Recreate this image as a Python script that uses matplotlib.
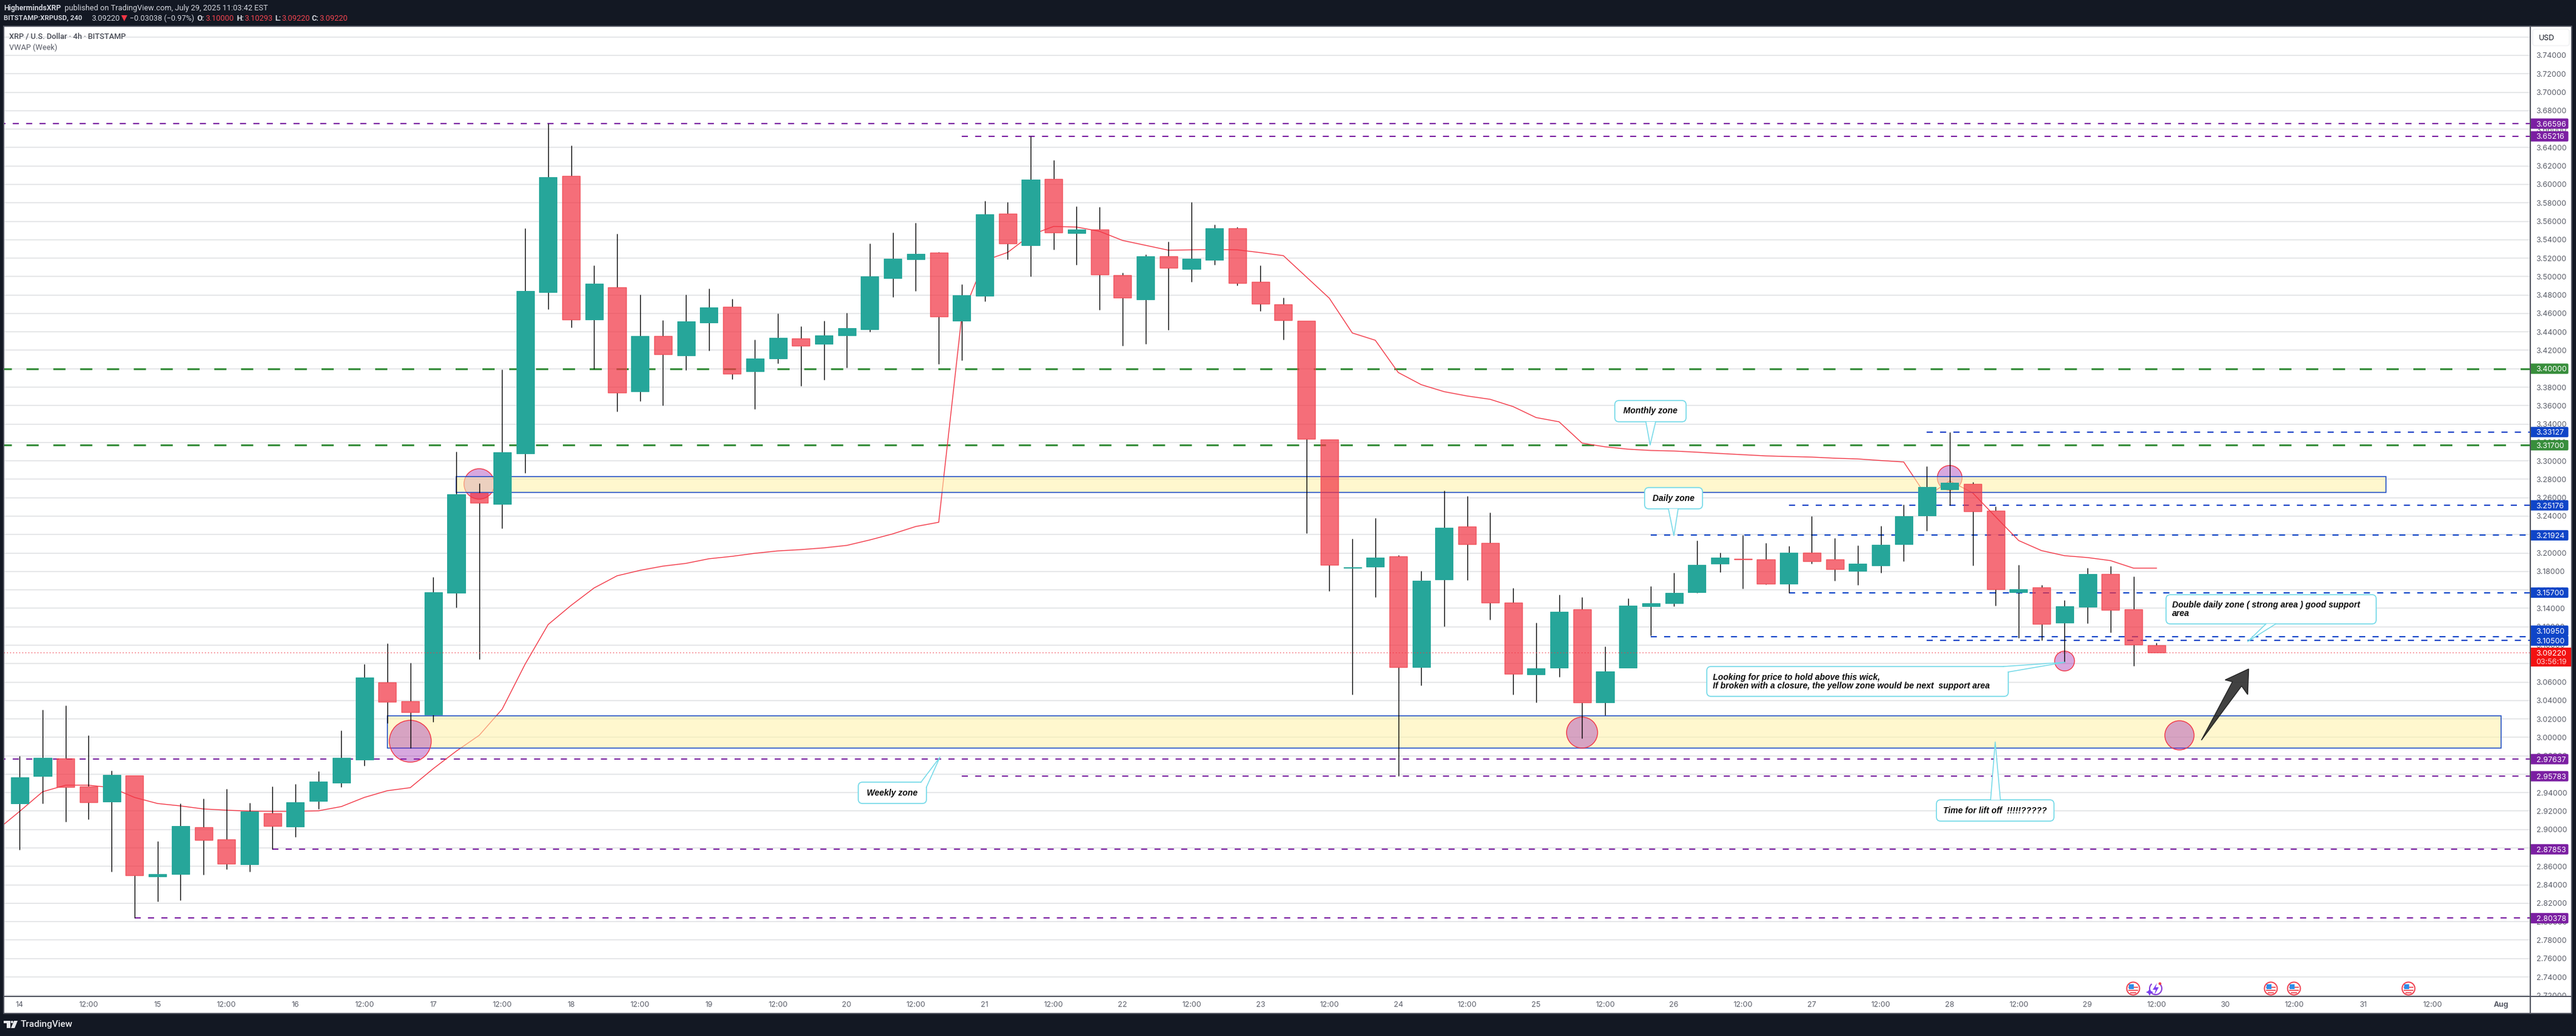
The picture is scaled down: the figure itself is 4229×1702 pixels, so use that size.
#!/usr/bin/env python3
"""XRP/USD 4h candles with zones, levels and notes, TradingView snapshot style."""
import numpy as np
import matplotlib
matplotlib.use("Agg")
import matplotlib.pyplot as plt
from matplotlib.patches import Rectangle, Ellipse, FancyBboxPatch, Polygon, Circle, Arc

W, H = 4229, 1702
plt.rcParams["lines.scale_dashes"] = False
plt.rcParams["font.family"] = ["Inter", "DejaVu Sans"]

# one candle every 4h, first one is Jul 14 00:00
opens = [
    2.9282, 2.9580, 2.9771, 2.9467, 2.9302, 2.9587, 2.8490, 2.8516, 2.9025, 2.8893,
    2.8622, 2.9177, 2.9032, 2.9309, 2.9507, 2.9758, 3.0597, 3.0392, 3.0247, 3.1568,
    3.2651, 3.2532, 3.3080, 3.4831, 3.6092, 3.4533, 3.4883, 3.3754, 3.4355, 3.4144,
    3.4500, 3.4672, 3.3972, 3.4111, 3.4329, 3.4269, 3.4362, 3.4428, 3.4983, 3.5187,
    3.5260, 3.4520, 3.4791, 3.5683, 3.5339, 3.6059, 3.5471, 3.5511, 3.5016, 3.4751,
    3.5220, 3.5082, 3.5181, 3.5524, 3.4943, 3.4698, 3.4520, 3.3232, 3.1839, 3.1852,
    3.1964, 3.0762, 3.1713, 3.2288, 3.2109, 3.1462, 3.0683, 3.0755, 3.1389, 3.0379,
    3.0755, 3.1422, 3.1455, 3.1574, 3.1885, 3.1938, 3.1928, 3.1667, 3.2004, 3.1928,
    3.1806, 3.1868, 3.2096, 3.2407, 3.2691, 3.2750, 3.2460, 3.1574, 3.1627, 3.1244,
    3.1416, 3.1772, 3.1389, 3.1000,
]
highs = [
    2.9798, 3.0300, 3.0346, 3.0022, 2.9639, 2.9587, 2.8873, 2.9282, 2.9335, 2.9441,
    2.9289, 2.9468, 2.9495, 2.9633, 3.0075, 3.0795, 3.1020, 3.0808, 3.1739, 3.3101,
    3.2757, 3.3992, 3.5524, 3.6660, 3.6422, 3.5121, 3.5465, 3.4804, 3.4527, 3.4804,
    3.4870, 3.4758, 3.4315, 3.4599, 3.4461, 3.4520, 3.4606, 3.5359, 3.5478, 3.5584,
    3.5267, 3.4916, 3.5821, 3.5808, 3.6522, 3.6264, 3.5762, 3.5755, 3.5042, 3.5240,
    3.5379, 3.5808, 3.5564, 3.5537, 3.5121, 3.4771, 3.4520, 3.3232, 3.2156, 3.2380,
    3.1977, 3.1806, 3.2677, 3.2618, 3.2440, 3.1621, 3.1244, 3.1548, 3.1522, 3.0986,
    3.1508, 3.1640, 3.1786, 3.2136, 3.2004, 3.2195, 3.2109, 3.2076, 3.2400, 3.2162,
    3.2083, 3.2294, 3.2525, 3.2942, 3.3313, 3.2770, 3.2506, 3.1872, 3.1654, 3.1489,
    3.1839, 3.1858, 3.1746, 3.1029,
]
lows = [
    2.8780, 2.9282, 2.9084, 2.9111, 2.8543, 2.8038, 2.8219, 2.8232, 2.8511, 2.8569,
    2.8543, 2.8785, 2.8919, 2.9223, 2.9461, 2.9692, 3.0154, 2.9884, 3.0168, 3.1409,
    3.0848, 3.2268, 3.2869, 3.4646, 3.4448, 3.3998, 3.3537, 3.3648, 3.3602, 3.3985,
    3.4197, 3.3886, 3.3562, 3.4058, 3.3813, 3.3879, 3.4012, 3.4401, 3.4778, 3.4844,
    3.4051, 3.4091, 3.4732, 3.5187, 3.5002, 3.5293, 3.5128, 3.4639, 3.4249, 3.4269,
    3.4421, 3.4943, 3.5128, 3.4903, 3.4626, 3.4315, 3.2215, 3.1588, 3.0465, 3.1522,
    2.9580, 3.0564, 3.1204, 3.1706, 3.1277, 3.0465, 3.0379, 3.0656, 2.9989, 3.0240,
    3.0755, 3.1105, 3.1422, 3.1568, 3.1792, 3.1614, 3.1660, 3.1570, 3.1882, 3.1700,
    3.1654, 3.1786, 3.1911, 3.2241, 3.2518, 3.1865, 3.1429, 3.1079, 3.1050, 3.0815,
    3.1237, 3.1138, 3.0775, 3.0922,
]
closes = [
    2.9566, 2.9778, 2.9461, 2.9296, 2.9593, 2.8503, 2.8516, 2.9038, 2.8886, 2.8629,
    2.9197, 2.9038, 2.9296, 2.9520, 2.9778, 3.0650, 3.0385, 3.0273, 3.1574, 3.2638,
    3.2545, 3.3094, 3.4844, 3.6079, 3.4533, 3.4923, 3.3741, 3.4355, 3.4157, 3.4514,
    3.4665, 3.3946, 3.4111, 3.4335, 3.4249, 3.4362, 3.4441, 3.5002, 3.5194, 3.5247,
    3.4566, 3.4798, 3.5676, 3.5359, 3.6053, 3.5478, 3.5511, 3.5022, 3.4771, 3.5220,
    3.5095, 3.5194, 3.5524, 3.4930, 3.4705, 3.4527, 3.3239, 3.1872, 3.1845, 3.1951,
    3.0762, 3.1700, 3.2275, 3.2096, 3.1462, 3.0689, 3.0749, 3.1363, 3.0379, 3.0716,
    3.1429, 3.1455, 3.1568, 3.1872, 3.1951, 3.1931, 3.1667, 3.2004, 3.1914, 3.1825,
    3.1888, 3.2092, 3.2400, 3.2717, 3.2763, 3.2453, 3.1607, 3.1607, 3.1231, 3.1422,
    3.1772, 3.1383, 3.1006, 3.0922,
]

# weekly VWAP, first value belongs to the bar left of the visible range
vwap = [
    2.8992, 2.9197, 2.9410, 2.9481, 2.9481, 2.9454, 2.9348, 2.9282, 2.9256, 2.9223, 2.9210,
    2.9200, 2.9197, 2.9197, 2.9203, 2.9249, 2.9348, 2.9421, 2.9454, 2.9660, 2.9850,
    3.0022, 3.0306, 3.0795, 3.1224, 3.1432, 3.1621, 3.1753, 3.1812, 3.1858, 3.1888,
    3.1938, 3.1964, 3.1997, 3.2023, 3.2037, 3.2056, 3.2083, 3.2142, 3.2208, 3.2288,
    3.2334, 3.4566, 3.5174, 3.5262, 3.5451, 3.5544, 3.5537, 3.5491, 3.5392, 3.5339,
    3.5286, 3.5290, 3.5293, 3.5290, 3.5260, 3.5227, 3.4996, 3.4765, 3.4388, 3.4309,
    3.3959, 3.3827, 3.3751, 3.3704, 3.3668, 3.3589, 3.3470, 3.3424, 3.3193, 3.3153,
    3.3127, 3.3113, 3.3107, 3.3094, 3.3080, 3.3067, 3.3054, 3.3047, 3.3041, 3.3029,
    3.3021, 3.3004, 3.2988, 3.2613, 3.2783, 3.2653, 3.2393, 3.2136, 3.2026, 3.1971,
    3.1951, 3.1918, 3.1836, 3.1836,
]

last_price = 3.09220

# horizontal levels: price, bar where the line starts, group
level_prices = [3.66596, 3.65216, 3.40000, 3.33127, 3.31700, 3.25176, 3.21924, 3.15700,
                3.10950, 3.10500, 2.97637, 2.95783, 2.87853, 2.80378]
level_starts = [-1, 41, -1, 83, -1, 77, 71, 77, 71, 83, -1, 41, 11, 5]
level_groups = ["purple", "purple", "green", "blue", "green", "blue", "blue", "blue",
                "blue", "blue", "purple", "purple", "purple", "purple"]

zone_bars = [(19, 103), (16, 108)]
zone_prices = [(3.2660, 3.2829), (2.9881, 3.0236)]

# marked spots: bar, price
circle_bars = [17, 20, 68, 84, 89, 94]
circle_prices = [2.9958, 3.2750, 3.0052, 3.2816, 3.0828, 3.0022]

x_tick_labels = ["14", "12:00", "15", "12:00", "16", "12:00", "17", "12:00", "18", "12:00",
                 "19", "12:00", "20", "12:00", "21", "12:00", "22", "12:00", "23", "12:00",
                 "24", "12:00", "25", "12:00", "26", "12:00", "27", "12:00", "28", "12:00",
                 "29", "12:00", "30", "12:00", "31", "12:00", "Aug"]

GREEN = "#26a69a"
RED_FILL = (242 / 255, 54 / 255, 69 / 255, 0.72)
RED_EDGE = (239 / 255, 70 / 255, 80 / 255, 0.8)
LEVEL_COLORS = {"purple": "#7b1fa2", "green": "#388e3c", "blue": "#0f45c8"}
DARK = "#131823"
AXIS_TEXT = "#5b5e69"
NOTE_EDGE = "#73d9e8"

# pixel box of the price pane
LEFT, RIGHT, TOP, BOTTOM = 6, 4154, 43, 1637
PANEL_RIGHT, PANEL_BOTTOM = 4222, 1665
BAR0_X, BAR_STEP = 32.3, 37.72
PX_PER_USD = 1514.0

fig = plt.figure(figsize=(W / 100, H / 100), dpi=100, facecolor=DARK)

fig.add_artist(Rectangle((LEFT / W, 1 - PANEL_BOTTOM / H), (PANEL_RIGHT - LEFT) / W, (PANEL_BOTTOM - TOP) / H,
                         transform=fig.transFigure, facecolor="white", edgecolor="none", zorder=-5))

ax = fig.add_axes([LEFT / W, 1 - BOTTOM / H, (RIGHT - LEFT) / W, (BOTTOM - TOP) / H])
ax.set_xlim((LEFT - BAR0_X) / BAR_STEP, (RIGHT - BAR0_X) / BAR_STEP)
ax.set_ylim(3.74 - (BOTTOM - 91) / PX_PER_USD, 3.74 + (91 - TOP) / PX_PER_USD)
for s in ax.spines.values():
    s.set_visible(False)

bars = np.arange(len(opens))
o = np.array(opens)
c = np.array(closes)
up = c >= o

# price axis, the top label sits behind the USD box so it stays empty
y_ticks = np.arange(2.72, 3.77, 0.02)
ax.set_yticks(y_ticks)
ax.set_yticklabels([f"{v:.5f}" if v < 3.75 else "" for v in y_ticks], fontsize=8.9, color=AXIS_TEXT)
ax.yaxis.tick_right()
ax.tick_params(axis="y", length=0, pad=6.9)
ax.set_axisbelow(True)
ax.grid(axis="y", color="#e0e1e4", linewidth=1.15, zorder=1)

# time axis
ax.set_xticks(np.arange(len(x_tick_labels)) * 3)
ax.set_xticklabels(x_tick_labels, fontsize=8.9, color=AXIS_TEXT)
ax.get_xticklabels()[-1].set_fontweight("bold")
ax.tick_params(axis="x", length=0, pad=5.5)

# the two high circles sit below the zone, the others above it
for b, p in zip(circle_bars, circle_prices):
    r_px = {17: 34.4, 20: 25, 68: 25.5, 84: 20.3, 89: 16.3, 94: 24}[b]
    z = 1.5 if b in (20, 84) else 4
    ax.add_patch(Ellipse((b, p), 2 * r_px / BAR_STEP, 2 * r_px / PX_PER_USD,
                         facecolor=(0.61, 0.15, 0.69, 0.40), edgecolor="#f23645", linewidth=1.0, zorder=z))

# levels
for p, start, group in zip(level_prices, level_starts, level_groups):
    thick = group == "green"
    ax.plot([start, 115], [p, p], color=LEVEL_COLORS[group], linewidth=2.2 if thick else 1.5,
            linestyle=(0, (14.4, 17.3)) if thick else (0, (7.2, 8.6)), zorder=3, solid_capstyle="butt")

# vwap goes under the zones
ax.plot(np.arange(-1, len(vwap) - 1), vwap, color="#f23645", linewidth=1.0, zorder=3.5)

for (b0, b1), (p0, p1) in zip(zone_bars, zone_prices):
    ax.add_patch(Rectangle((b0, p0), b1 - b0, p1 - p0, facecolor=(1.0, 0.95, 0.65, 0.55),
                           edgecolor="#1848c4", linewidth=1.1, zorder=3.6))

# candles, wicks stop at the body
bottoms = np.minimum(o, c)
tops = np.maximum(o, c)
heights = tops - bottoms
ax.vlines(bars, tops, highs, color="black", linewidth=1.0, zorder=5)
ax.vlines(bars, lows, bottoms, color="black", linewidth=1.0, zorder=5)
ax.bar(bars[up], heights[up], bottom=bottoms[up], width=0.77, color=GREEN, edgecolor=GREEN, linewidth=0.7, zorder=6)
ax.bar(bars[~up], heights[~up], bottom=bottoms[~up], width=0.77, color=RED_FILL, edgecolor=RED_EDGE, linewidth=1.0, zorder=6)

ax.axhline(last_price, color="#f23645", linewidth=0.75, linestyle=(0, (1.2, 2.4)), zorder=7)

# overlay in pixel units for frame, badges, notes, header
ov = fig.add_axes([0, 0, 1, 1], zorder=10)
ov.set_xlim(0, W)
ov.set_ylim(H, 0)
ov.set_xticks([])
ov.set_yticks([])
ov.axis("off")
ov.patch.set_alpha(0)


def py(price):
    return 91 + (3.74 - price) * PX_PER_USD


# cut off the lowest price label, frame lines
ov.add_patch(Rectangle((RIGHT + 1, BOTTOM), PANEL_RIGHT - RIGHT - 1, PANEL_BOTTOM - BOTTOM, facecolor="white", edgecolor="none"))
frame = "#50535e"
ov.plot([LEFT, PANEL_RIGHT, PANEL_RIGHT, LEFT, LEFT], [TOP, TOP, PANEL_BOTTOM, PANEL_BOTTOM, TOP], color=frame, lw=1.4)
ov.plot([LEFT, PANEL_RIGHT], [BOTTOM, BOTTOM], color=frame, lw=1.4)
ov.plot([RIGHT, RIGHT], [TOP, PANEL_BOTTOM], color=frame, lw=1.4)


def badge(y0, y1, color, text, x1=4216.5, fs=8.9):
    ov.add_patch(FancyBboxPatch((RIGHT + 1, y0 + 1.5), x1 - RIGHT - 2.5, y1 - y0 - 3,
                                boxstyle="round,pad=1.5,rounding_size=2", facecolor=color, edgecolor="none", mutation_aspect=1))
    ov.text(4163.6, (y0 + y1) / 2, text, color="white", fontsize=fs, va="center_baseline", ha="left")


for p, group in zip(level_prices, level_groups):
    y = py(p)
    if p == 3.10950:
        y -= 9.5
    badge(y - 8.5, y + 8.5, LEVEL_COLORS[group], f"{p:.5f}")

# last price badge with countdown
ov.add_patch(Rectangle((RIGHT + 1, 1064), 4221 - RIGHT - 1, 31, facecolor="#f21212", edgecolor="none"))
ov.text(4163.6, 1072.5, "3.09220", color="white", fontsize=8.9, va="center_baseline")
ov.text(4163.6, 1086.5, "03:56:19", color="#ffd0d0", fontsize=8.9, va="center_baseline")

# currency box
ov.add_patch(FancyBboxPatch((4161, 51), 54, 21, boxstyle="round,pad=3,rounding_size=4", facecolor="white", edgecolor="#f0f1f3", linewidth=1))
ov.text(4167.5, 61.5, "USD", color="#131722", fontsize=8.9, va="center_baseline")


def note(x0, y0, x1, y1, tail, text, tx=None, ty=None):
    """Speech bubble: box corners, tail points (a, tip, b), bold italic text."""
    r = 7
    ov.add_patch(FancyBboxPatch((x0 + r, y0 + r), x1 - x0 - 2 * r, y1 - y0 - 2 * r,
                                boxstyle=f"round,pad={r},rounding_size={r}", facecolor="white", edgecolor=NOTE_EDGE, linewidth=1.2))
    ov.add_patch(Polygon(tail, closed=True, facecolor="white", edgecolor="none"))
    ov.plot([p[0] for p in tail], [p[1] for p in tail], color=NOTE_EDGE, lw=1.1)
    kw = dict(family=["Liberation Sans"], style="italic", weight="bold", fontsize=10, color="#0a0a0a", va="center", linespacing=1.05)
    if tx is None:
        ov.text((x0 + x1) / 2, (y0 + y1) / 2, text, ha="center", **kw)
    else:
        ov.text(tx, ty, text, ha="left", **kw)


note(2651, 658, 2768, 693, [(2702, 693), (2709, 731), (2718, 693)], "Monthly zone")
note(2700, 801, 2795, 836, [(2739, 836), (2748, 880), (2755, 836)], "Daily zone")
note(1409, 1285, 1521, 1320, [(1512, 1285), (1543, 1244), (1521, 1293)], "Weekly zone")
note(3179, 1314, 3372, 1349, [(3268, 1314), (3275.5, 1219), (3284, 1314)], "Time for lift off  !!!!!?????")
note(2802, 1095, 3297, 1144, [(3289, 1095), (3390, 1088), (3297, 1104)],
     "Looking for price to hold above this wick,\nIf broken with a closure, the yellow zone would be next  support area",
     tx=2811.6, ty=1120)
note(3556, 977, 3901, 1025, [(3720, 1025), (3690, 1054), (3736, 1025)],
     "Double daily zone ( strong area ) good support\narea", tx=3566, ty=1001)

# arrow
ov.add_patch(Polygon([(3614, 1216), (3665, 1120), (3653, 1117), (3691.6, 1099), (3690, 1141), (3680, 1127)],
                     closed=True, facecolor=(0.13, 0.13, 0.13, 0.85), edgecolor="#222222", linewidth=1.0))


def flag(cx, cy=1624):
    ov.add_patch(Circle((cx, cy), 10.5, facecolor="white", edgecolor="#f0404f", linewidth=1.4))
    for dy in (-2, 3, 7):
        half = np.sqrt(max(8.5 ** 2 - dy ** 2, 0))
        ov.add_patch(Rectangle((cx - half, cy + dy - 1), 2 * half, 2.4, facecolor="#f0606a", edgecolor="none"))
    ov.add_patch(Rectangle((cx - 7, cy - 7), 8, 7.5, facecolor="#2f8de8", edgecolor="none"))


for fx in (3502, 3728, 3766, 3954):
    flag(fx)

# the other event marker
ov.add_patch(Arc((3539, 1624), 20, 20, theta1=-60, theta2=230, color="#8a3fd8", lw=1.5))
ov.add_patch(Polygon([(3541, 1615), (3534, 1626), (3539, 1626), (3537, 1634), (3544, 1622), (3539, 1622)], closed=True, facecolor="#7b3ff0"))
ov.add_patch(Polygon([(3529, 1624), (3531, 1628), (3535, 1630), (3531, 1632), (3529, 1636), (3527, 1632), (3523, 1630), (3527, 1628)], closed=True, facecolor="#7b3ff0"))
ov.add_patch(Circle((3546, 1616), 2.3, facecolor="#f0404f", edgecolor="none"))

# header
hdr = "#d1d4dc"
hdr_font = ["Roboto", "DejaVu Sans"]
ov.text(6, 13, "HighermindsXRP", color=hdr, family=hdr_font, fontsize=8.8, weight="bold", va="center")
ov.text(106, 13, "published on TradingView.com, July 29, 2025 11:03:42 EST", color=hdr, family=hdr_font, fontsize=9.2, va="center")
ov.text(6, 30, "BITSTAMP:XRPUSD, 240", color=hdr, family=hdr_font, fontsize=8.2, weight="bold", va="center")
ov.text(150, 30, "3.09220", color=hdr, family=hdr_font, fontsize=9.2, va="center")
ov.add_patch(Polygon([(199, 25), (209, 25), (204, 35)], closed=True, facecolor="#f23645"))
ov.text(213, 30, "\u22120.03038 (\u22120.97%)", color=hdr, family=hdr_font, fontsize=9.0, va="center")
for lx, lab, vx, val in [(323, "O:", 337, "3.10000"), (388, "H:", 401, "3.10293"), (451, "L:", 462, "3.09220"), (512, "C:", 524, "3.09220")]:
    ov.text(lx, 30, lab, color=hdr, family=hdr_font, fontsize=9.0, weight="bold", va="center")
    ov.text(vx, 30, val, color="#f0444f", family=hdr_font, fontsize=9.2, va="center")

# pane legend
ov.text(15, 60.5, "XRP / U.S. Dollar \u00b7 4h \u00b7 BITSTAMP", color="#4a4d57", family=hdr_font, fontsize=9.2, weight="medium", va="center")
ov.text(15, 78, "VWAP (Week)", color="#5b5e69", family=hdr_font, fontsize=9.2, va="center")

# footer logo
ov.add_patch(Polygon([(6, 1677), (17, 1677), (17, 1689), (11, 1689), (11, 1681), (6, 1681)], closed=True, facecolor="#e8e9ec"))
ov.add_patch(Circle((19.7, 1679), 2, facecolor="#e8e9ec", edgecolor="none"))
ov.add_patch(Polygon([(23, 1677), (29, 1677), (24, 1689), (18, 1689)], closed=True, facecolor="#e8e9ec"))
ov.text(34, 1683, "TradingView", color="#e8e9ec", family=hdr_font, fontsize=11, weight="medium", va="center")

fig.savefig("out.png", dpi=100, facecolor=DARK)
